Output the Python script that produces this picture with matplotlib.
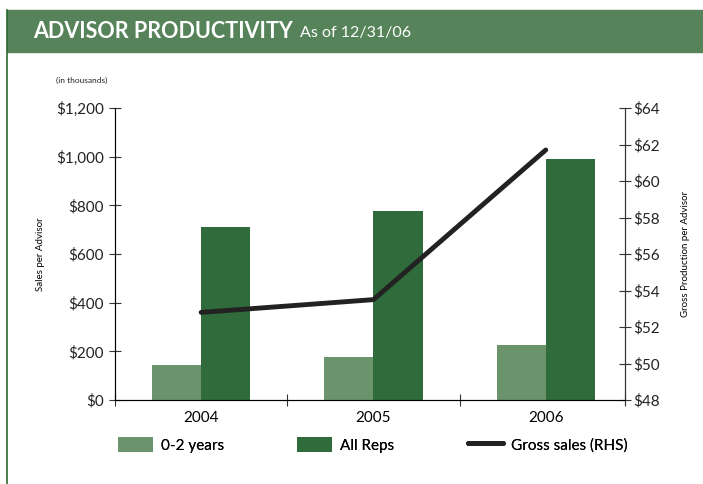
import matplotlib.pyplot as plt
from matplotlib.patches import Rectangle
from matplotlib.lines import Line2D
import numpy as np

# Data (in thousands)
years = ['2004', '2005', '2006']
new_reps = [145, 175, 228]       # 0-2 years
all_reps = [712, 778, 992]       # All Reps
gross_sales = [52.8, 53.5, 61.7]  # Gross production per advisor (RHS)

light_green = '#6b946c'
dark_green = '#2f6b3b'
banner_green = '#56835a'
axis_color = '#333333'

plt.rcParams['font.family'] = ['Lato', 'DejaVu Sans']

fig = plt.figure(figsize=(7.03, 4.84), dpi=100)

# Banner and left border
fig.patches.append(Rectangle((7 / 703, 1 - 52 / 484), 1, 42 / 484,
                             transform=fig.transFigure, color=banner_green, zorder=0))
fig.add_artist(Line2D([7.5 / 703, 7.5 / 703], [0, 1 - 10 / 484],
                      transform=fig.transFigure, color='#2d6a2f', linewidth=1.2))
fig.text(33 / 703, 1 - 32 / 484, 'ADVISOR PRODUCTIVITY', color='white',
         fontsize=15.5, fontweight='bold', va='center')
fig.text(300 / 703, 1 - 33 / 484, 'As of 12/31/06', color='white',
         fontsize=11.5, va='center')
fig.text(56 / 703, 1 - 80 / 484, '(in thousands)', fontsize=6, color='#222222', va='center')

ax = fig.add_axes([115 / 703, 1 - 400 / 484, 510 / 703, 292 / 484])
x = np.arange(len(years))
w = 0.285
b1 = ax.bar(x - w / 2, new_reps, width=w, color=light_green, zorder=2)
b2 = ax.bar(x + w / 2, all_reps, width=w, color=dark_green, zorder=2)

ax.set_xlim(-0.5, 2.46)
ax.set_ylim(0, 1200)
ax.set_yticks(range(0, 1201, 200))
ax.set_yticklabels(['$0', '$200', '$400', '$600', '$800', '$1,000', '$1,200'])
ax.set_xticks([-0.5, 0.5, 1.5, 2.46])
ax.set_xticklabels([])
ax.set_xticks(x, minor=True)
ax.set_xticklabels(years, minor=True)
ax.tick_params(axis='x', which='minor', length=0, pad=8, labelsize=11)
ax.tick_params(axis='x', which='major', direction='inout', length=8, color=axis_color)
ax.tick_params(axis='y', direction='inout', length=8, color=axis_color, labelsize=11,
               labelcolor='#222222', pad=4)
ax.spines['top'].set_visible(False)
for s in ['left', 'right', 'bottom']:
    ax.spines[s].set_color(axis_color)
ax.set_ylabel('Sales per Advisor', fontsize=7, labelpad=8)

ax2 = ax.twinx()
ln, = ax2.plot(x, gross_sales, color='#222222', linewidth=3.5, solid_capstyle='round', zorder=3)
ax2.set_ylim(48, 64)
ax2.set_yticks(range(48, 65, 2))
ax2.set_yticklabels(['$' + str(v) for v in range(48, 65, 2)])
ax2.tick_params(axis='y', direction='inout', length=8, color=axis_color, labelsize=11,
                labelcolor='#222222', pad=2)
ax2.spines['top'].set_visible(False)
ax2.spines['right'].set_color(axis_color)
ax2.set_ylabel('Gross Production per Advisor', fontsize=7, labelpad=15)

# Legend: three entries placed separately
entries = [(b1, '0-2 years', 118), (b2, 'All Reps', 297), (ln, 'Gross sales (RHS)', 468)]
for handle, label, xpos in entries:
    leg = fig.legend([handle], [label], loc='center left',
                     bbox_to_anchor=(xpos / 703, 1 - 445 / 484), frameon=False,
                     fontsize=11, handlelength=2.3, handleheight=1.1,
                     handletextpad=0.5, borderpad=0, borderaxespad=0)
    fig.add_artist(leg)

fig.savefig('out.png', dpi=100)
